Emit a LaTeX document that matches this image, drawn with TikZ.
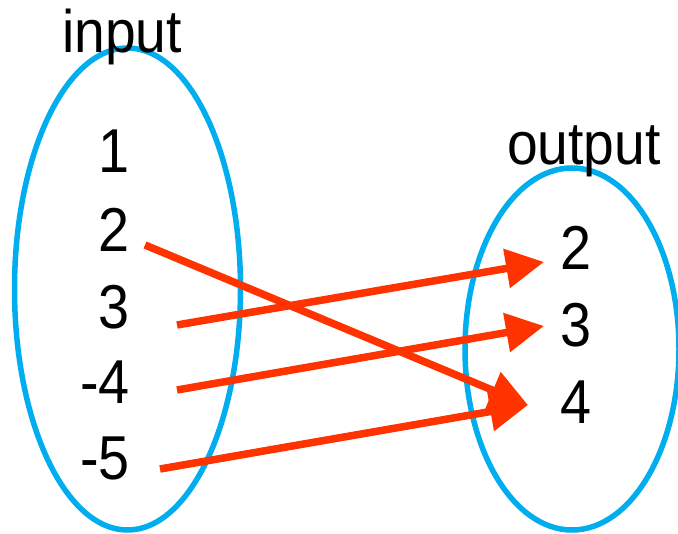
\documentclass[tikz,border=0pt]{standalone}
\usepackage{fontspec}
\setmainfont{Liberation Sans}
\usetikzlibrary{arrows.meta}
\definecolor{setblue}{RGB}{0,174,239}
\definecolor{maparrow}{RGB}{255,51,0}
\begin{document}
\begin{tikzpicture}[x=1pt,y=-1pt,
  setline/.style={draw=setblue,line width=5.5pt},
  digit/.style={inner sep=0pt,xscale=0.9,font=\fontsize{62}{64}\selectfont},
  setlabel/.style={inner sep=0pt,xscale=0.92,font=\fontsize{60}{62}\selectfont,anchor=base},
  maparrowstyle/.style={draw=maparrow,line width=7.5pt,-{Triangle[length=38pt,width=38pt]}}]
\useasboundingbox (0,0) rectangle (678,534);
% sets
\draw[setline] (127.5,289) ellipse [x radius=113, y radius=241];
\draw[setline] (572,349) ellipse [x radius=107, y radius=181];
% labels
\node[setlabel] (inlab) at (122,53) {input};
\node[setlabel] (outlab) at (584,165) {output};
% domain
\node[digit,anchor=base east] (l1) at (130,173) {1};
\node[digit,anchor=base east] (l2) at (130,252) {2};
\node[digit,anchor=base east] (l3) at (130,329) {3};
\node[digit,anchor=base east] (l4) at (130,404) {-4};
\node[digit,anchor=base east] (l5) at (130,480) {-5};
% range
\node[digit,anchor=base] (r2) at (576,270) {2};
\node[digit,anchor=base] (r3) at (576,347) {3};
\node[digit,anchor=base] (r4) at (576,424) {4};
% arrow ends
\coordinate (s2) at (145,245);
\coordinate (s3) at (177,325);
\coordinate (s4) at (177,390);
\coordinate (s5) at (160,469);
\coordinate (t2) at (544,262);
\coordinate (t3) at (544,326);
\coordinate (t4) at (528,405);
% mapping
\draw[maparrowstyle] (s2) -- (t4);
\draw[maparrowstyle] (s3) -- (t2);
\draw[maparrowstyle] (s4) -- (t3);
\draw[maparrowstyle] (s5) -- (t4);
\end{tikzpicture}
\end{document}
